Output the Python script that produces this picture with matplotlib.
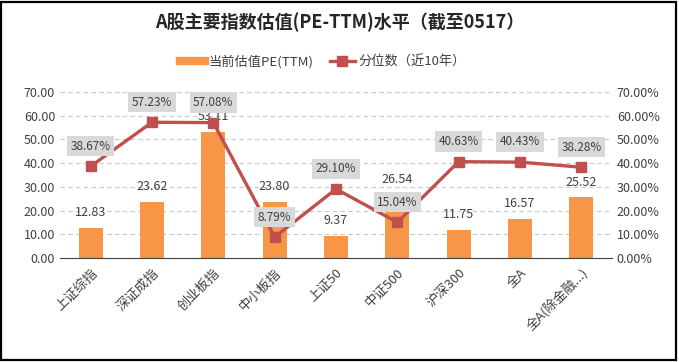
import matplotlib
matplotlib.use('Agg')
import matplotlib.pyplot as plt
from matplotlib.patches import Rectangle
from matplotlib.lines import Line2D
from matplotlib.ticker import FuncFormatter

plt.rcParams['font.family'] = ['Noto Sans CJK SC', 'DejaVu Sans']

categories = ['上证综指', '深证成指', '创业板指', '中小板指', '上证50',
              '中证500', '沪深300', '全A', '全A(除金融...)']
pe_ttm = [12.83, 23.62, 53.11, 23.80, 9.37, 26.54, 11.75, 16.57, 25.52]
percentile = [38.67, 57.23, 57.08, 8.79, 29.10, 15.04, 40.63, 40.43, 38.28]

bar_color = '#F79646'
line_color = '#C0504D'
text_color = '#404040'

fig = plt.figure(figsize=(6.79, 3.62), dpi=100)
ax = fig.add_axes([60 / 679, 1 - 258 / 362, 552 / 679, 166 / 362])
ax2 = ax.twinx()

x = list(range(len(categories)))
ax.bar(x, pe_ttm, width=0.39, color=bar_color, zorder=2)
ax.set_xlim(-0.5, len(categories) - 0.5)
ax.set_ylim(0, 70)
ax.set_yticks(range(0, 71, 10))
ax.yaxis.set_major_formatter(FuncFormatter(lambda v, _: '%.2f' % v))
for yv in range(10, 71, 10):
    ax.axhline(yv, color='#C8C8C8', lw=0.8, ls=(0, (4, 3)), zorder=0)

for xi, v in zip(x, pe_ttm):
    ax.annotate('%.2f' % v, (xi, v), xytext=(0, 11), textcoords='offset points',
                ha='center', va='center', fontsize=9, color=text_color, zorder=3)

ax2.plot(x, percentile, color=line_color, lw=2.4, marker='s', markersize=6.5,
         zorder=4)
ax2.set_ylim(0, 70)
ax2.set_yticks(range(0, 71, 10))
ax2.yaxis.set_major_formatter(FuncFormatter(lambda v, _: '%.2f%%' % v))
for xi, v in zip(x, percentile):
    ax2.annotate('%.2f%%' % v, (xi, v), xytext=(0, 14.5), textcoords='offset points',
                 ha='center', va='center', fontsize=8.5, color=text_color, zorder=5,
                 bbox=dict(boxstyle='square,pad=0.3', fc='#D9D9D9', ec='none'))

ax.set_xticks(x)
ax.set_xticklabels(categories, rotation=45, ha='right', rotation_mode='anchor',
                   fontsize=9.5, color=text_color)
for a in (ax, ax2):
    for s in a.spines.values():
        s.set_visible(False)
    a.tick_params(length=0, labelsize=9, labelcolor=text_color)
ax.tick_params(axis='x', labelsize=9.5, pad=6)
ax.spines['bottom'].set_visible(True)
ax.spines['bottom'].set_color('#404040')
ax2.set_zorder(ax.get_zorder() + 1)

fig.text(0.5, 1 - 22 / 362, 'A股主要指数估值(PE-TTM)水平（截至0517）',
         ha='center', va='center', fontsize=13, fontweight='bold', color='#262626')

handles = [Line2D([0], [0], color=bar_color, lw=6),
           Line2D([0], [0], color=line_color, lw=2.4, marker='s', markersize=6.5)]
fig.legend(handles, ['当前估值PE(TTM)', '分位数（近10年）'], loc='center',
           bbox_to_anchor=(323 / 679, 1 - 62 / 362), ncol=2, frameon=False,
           fontsize=9.5, handlelength=1.9, columnspacing=1.2, handletextpad=0.3,
           labelcolor=text_color)

fig.patches.append(Rectangle((0.002, 0.005), 0.994, 0.99, transform=fig.transFigure,
                             fill=False, ec='black', lw=1.6))

fig.savefig('out.png', dpi=100)
